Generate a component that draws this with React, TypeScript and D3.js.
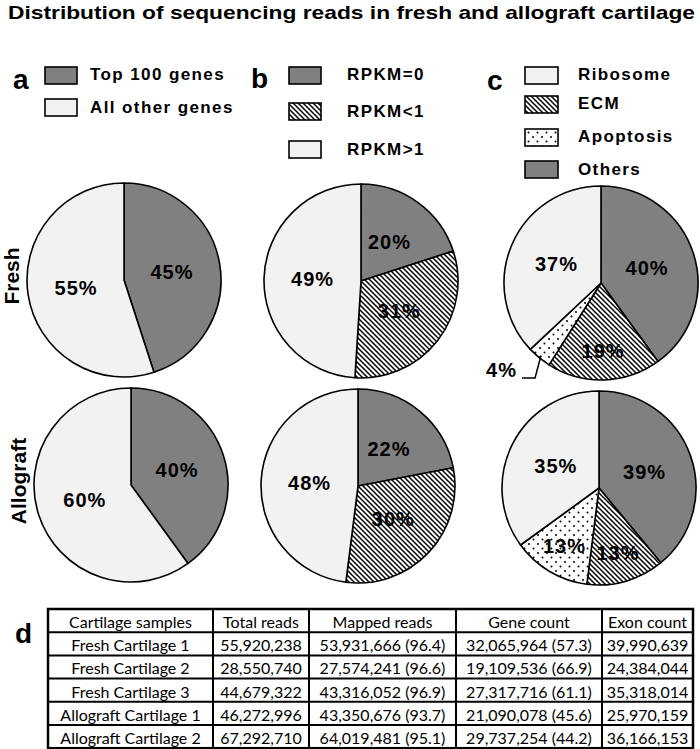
import React from "react";
import * as d3 from "d3";

// ---------- data ----------
const TITLE = "Distribution of sequencing reads in fresh and allograft cartilage";
const rowNames = ["Fresh", "Allograft"];

const aCategories = ["Top 100 genes", "All other genes"];
const aFresh = [45, 55];
const aAllograft = [40, 60];

const bCategories = ["RPKM=0", "RPKM<1", "RPKM>1"];
const bFresh = [20, 31, 49];
const bAllograft = [22, 30, 48];

const cLegendOrder = ["Ribosome", "ECM", "Apoptosis", "Others"];
const cCategories = ["Others", "ECM", "Apoptosis", "Ribosome"];
const cFresh = [40, 19, 4, 37];
const cAllograft = [39, 13, 13, 35];

const tableHeader = ["Cartilage samples", "Total reads", "Mapped reads", "Gene count", "Exon count"];
const sampleNames = ["Fresh Cartilage 1", "Fresh Cartilage 2", "Fresh Cartilage 3", "Allograft Cartilage 1", "Allograft Cartilage 2"];
const totalReads = ["55,920,238", "28,550,740", "44,679,322", "46,272,996", "67,292,710"];
const mappedReads = ["53,931,666 (96.4)", "27,574,241 (96.6)", "43,316,052 (96.9)", "43,350,676 (93.7)", "64,019,481 (95.1)"];
const geneCount = ["32,065,964 (57.3)", "19,109,536 (66.9)", "27,317,716 (61.1)", "21,090,078 (45.6)", "29,737,254 (44.2)"];
const exonCount = ["39,990,639", "24,384,044", "35,318,014", "25,970,159", "36,166,153"];

// ---------- style / layout ----------
const DARK = "#808080";
const LIGHT = "#f2f2f2";
const fillOf: Record<string, string> = {
  "Top 100 genes": DARK,
  "All other genes": LIGHT,
  "RPKM=0": DARK,
  "RPKM<1": "url(#hatch)",
  "RPKM>1": LIGHT,
  Ribosome: LIGHT,
  ECM: "url(#hatch)",
  Apoptosis: "url(#dots)",
  Others: DARK,
};
const ARIAL = "'Liberation Sans', Arial, sans-serif";
const R = 97;

const panels = [
  { cats: aCategories, rows: [aFresh, aAllograft], centers: [[124, 280], [131, 485]] },
  { cats: bCategories, rows: [bFresh, bAllograft], centers: [[361, 281], [358, 486]] },
  { cats: cCategories, rows: [cFresh, cAllograft], centers: [[601, 283], [599, 488]] },
];

const legends = [
  { letter: "a", lx: 13, ly: 89, items: aCategories, bx: 45, bw: 32, tx: 90, boxY: [67, 99], baseY: [80, 113] },
  { letter: "b", lx: 251, ly: 88, items: bCategories, bx: 289, bw: 32, tx: 347, boxY: [67, 103, 141], baseY: [80, 117, 155] },
  { letter: "c", lx: 487, ly: 90, items: cLegendOrder, bx: 525, bw: 33, tx: 578, boxY: [67, 96, 129, 161], baseY: [80, 109, 142, 175] },
];

const colX = [48, 213, 309, 456, 602, 693];
const tableTop = 609;
const rowH = 23.2;

function Pie({ cats, values, cx, cy }: { cats: string[]; values: number[]; cx: number; cy: number }) {
  const pie = d3.pie<number>().sort(null).value((d) => d);
  const arcs = pie(values);
  const arc = d3.arc<d3.PieArcDatum<number>>().innerRadius(0).outerRadius(R);
  return (
    <g transform={`translate(${cx},${cy})`}>
      {arcs.map((a, i) => (
        <path key={i} d={arc(a) || ""} fill={fillOf[cats[i]]} stroke="#000" strokeWidth={1.6} strokeLinejoin="round" />
      ))}
      {arcs.map((a, i) => {
        const mid = (a.startAngle + a.endAngle) / 2;
        const v = values[i];
        if (v < 5) {
          const sx = Math.sin(mid) * R * 0.97;
          const sy = -Math.cos(mid) * R * 0.97;
          const ey = R * 0.98;
          const ex = sx - 6;
          return (
            <g key={"l" + i}>
              <path d={`M${sx},${sy} L${ex},${ey} L${ex - 13},${ey}`} fill="none" stroke="#000" strokeWidth={1.5} />
              <text x={ex - 18} y={ey} dy="-0.05em" textAnchor="end" fontFamily={ARIAL} fontWeight="bold" fontSize={20} letterSpacing={1}>
                {v}%
              </text>
            </g>
          );
        }
        const rr = v < 20 ? R * 0.7 : R * 0.5;
        return (
          <text key={"l" + i} x={Math.sin(mid) * rr} y={-Math.cos(mid) * rr} dy="0.35em" textAnchor="middle" fontFamily={ARIAL} fontWeight="bold" fontSize={20} letterSpacing={1}>
            {v}%
          </text>
        );
      })}
    </g>
  );
}

export default function App() {
  const columns = [sampleNames, totalReads, mappedReads, geneCount, exonCount];
  const nRows = sampleNames.length + 1;
  const tableBottom = tableTop + rowH * nRows;
  return (
    <svg width={700} height={749} viewBox="0 0 700 749" style={{ position: "absolute", left: 0, top: 0, background: "#fff" }}>
      <defs>
        <pattern id="hatch" patternUnits="userSpaceOnUse" width={5} height={5}>
          <rect width={5} height={5} fill="#fff" />
          <path d="M-1,-1 L6,6 M-1,4 L1,6 M4,-1 L6,1" stroke="#000" strokeWidth={1.5} />
        </pattern>
        <pattern id="dots" patternUnits="userSpaceOnUse" width={9} height={9}>
          <rect width={9} height={9} fill="#fff" />
          <circle cx={2} cy={2} r={1} fill="#000" />
          <circle cx={6.5} cy={6.5} r={1} fill="#000" />
        </pattern>
      </defs>
      <rect width={700} height={749} fill="#fff" />
      <text x={8} y={19} fontFamily="'Liberation Sans Narrow', 'Liberation Sans', Arial, sans-serif" fontWeight="bold" fontSize={19} textLength={687} lengthAdjust="spacingAndGlyphs">
        {TITLE}
      </text>

      {legends.map((lg) => (
        <g key={lg.letter}>
          <text x={lg.lx} y={lg.ly} fontFamily={ARIAL} fontWeight="bold" fontSize={28}>
            {lg.letter}
          </text>
          {lg.items.map((it, i) => (
            <g key={it}>
              <rect x={lg.bx} y={lg.boxY[i]} width={lg.bw} height={17} fill={fillOf[it]} stroke="#000" strokeWidth={1.6} />
              <text x={lg.tx} y={lg.baseY[i]} fontFamily={ARIAL} fontWeight="bold" fontSize={17} letterSpacing={1.4}>
                {it}
              </text>
            </g>
          ))}
        </g>
      ))}

      {rowNames.map((name, r) => {
        const [cx, cy] = panels[0].centers[r];
        return (
          <text key={name} transform={`translate(${cx - 105},${cy - 4}) rotate(-90)`} textAnchor="middle" fontFamily={ARIAL} fontWeight="bold" fontSize={21}>
            {name}
          </text>
        );
      })}

      {panels.map((p, pi) =>
        p.rows.map((vals, r) => <Pie key={pi + "-" + r} cats={p.cats} values={vals} cx={p.centers[r][0]} cy={p.centers[r][1]} />)
      )}

      <text x={15} y={643} fontFamily={ARIAL} fontWeight="bold" fontSize={28}>
        d
      </text>
      <g>
        {tableHeader.map((h, ci) => (
          <text key={h} x={(colX[ci] + colX[ci + 1]) / 2} y={tableTop + 19} textAnchor="middle" fontFamily="Lato, 'Open Sans', sans-serif" fontSize={16}>
            {h}
          </text>
        ))}
        {columns.map((col, ci) =>
          col.map((v, ri) => (
            <text key={ci + "-" + ri} x={(colX[ci] + colX[ci + 1]) / 2} y={tableTop + rowH * (ri + 1) + 19} textAnchor="middle" fontFamily="Lato, 'Open Sans', sans-serif" fontSize={16}>
              {v}
            </text>
          ))
        )}
        {d3.range(1, nRows).map((i) => (
          <line key={"h" + i} x1={colX[0]} x2={colX[colX.length - 1]} y1={tableTop + rowH * i} y2={tableTop + rowH * i} stroke="#000" strokeWidth={2} />
        ))}
        {colX.slice(1, -1).map((x) => (
          <line key={"v" + x} x1={x} x2={x} y1={tableTop} y2={tableBottom} stroke="#000" strokeWidth={2} />
        ))}
        <rect x={colX[0]} y={tableTop} width={colX[colX.length - 1] - colX[0]} height={tableBottom - tableTop} fill="none" stroke="#000" strokeWidth={2.5} />
      </g>
    </svg>
  );
}
